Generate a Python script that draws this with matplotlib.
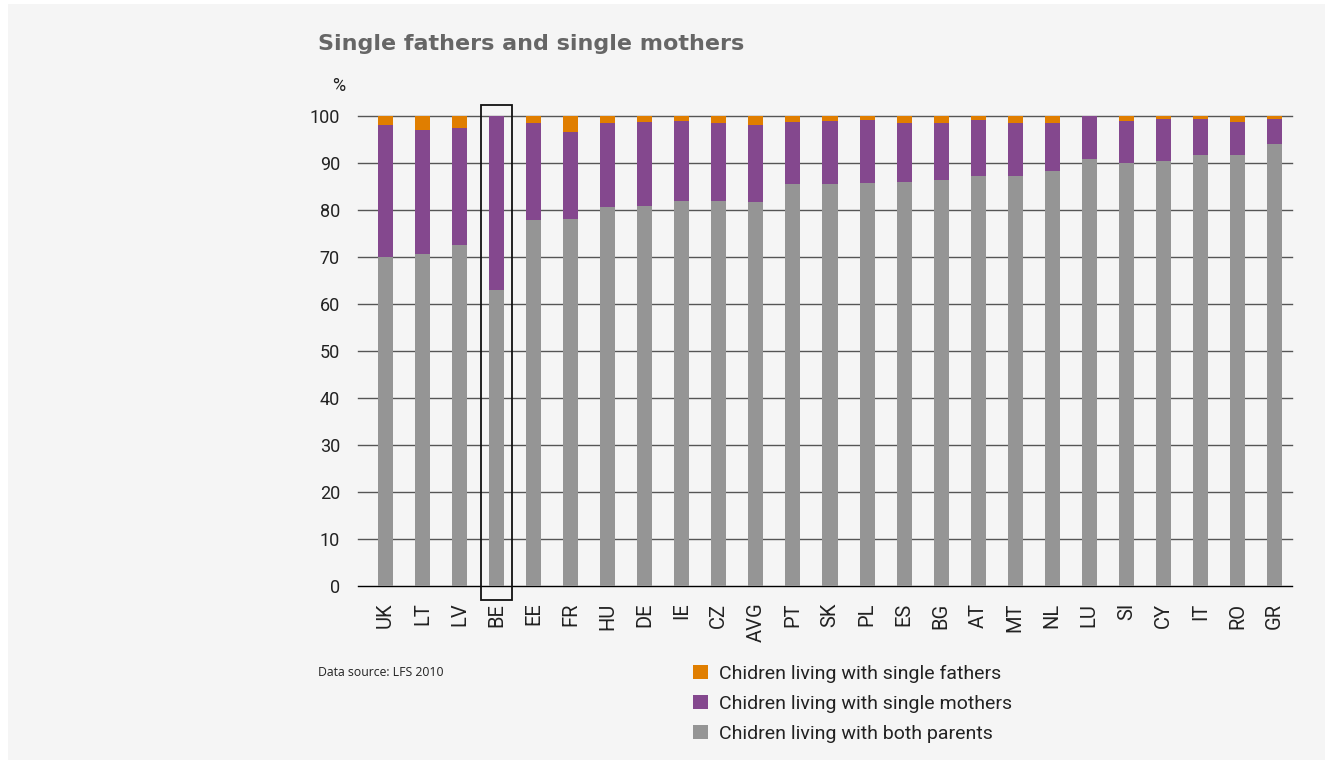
import matplotlib
matplotlib.use("Agg")
import matplotlib.pyplot as plt
from matplotlib.patches import Rectangle, Patch

countries = ["UK", "LT", "LV", "BE", "EE", "FR", "HU", "DE", "IE", "CZ", "AVG", "PT", "SK",
             "PL", "ES", "BG", "AT", "MT", "NL", "LU", "SI", "CY", "IT", "RO", "GR"]
both_parents = [70.0, 70.6, 72.6, 63.0, 77.9, 78.1, 80.6, 80.9, 82.0, 82.0, 81.8, 85.6, 85.6,
                85.8, 86.0, 86.4, 87.2, 87.2, 88.3, 90.9, 90.0, 90.4, 91.7, 91.7, 94.0]
single_mothers = [28.1, 26.4, 24.8, 37.0, 20.6, 18.5, 17.9, 17.8, 16.9, 16.5, 16.3, 13.1, 13.3,
                  13.3, 12.5, 12.1, 11.9, 11.3, 10.2, 9.1, 8.9, 9.0, 7.7, 7.0, 5.4]
single_fathers = [1.9, 3.0, 2.6, 0.0, 1.5, 3.4, 1.5, 1.3, 1.1, 1.5, 1.9, 1.3, 1.1,
                  0.9, 1.5, 1.5, 0.9, 1.5, 1.5, 0.0, 1.1, 0.6, 0.6, 1.3, 0.6]
highlight = "BE"
yticks = list(range(0, 101, 10))

C_FATHERS = "#E07E00"
C_MOTHERS = "#84488E"
C_BOTH = "#959595"
BG = "#F5F5F5"

W, H = 1333, 764
fig = plt.figure(figsize=(W / 100, H / 100), dpi=100, facecolor="white")
fig.patches.append(Rectangle((8 / W, 4 / H), (W - 16) / W, (H - 8) / H,
                             transform=fig.transFigure, facecolor=BG, edgecolor="none", zorder=-10))

ax = fig.add_axes([358 / W, (H - 586) / H, (1292 - 358) / W, 470 / H])
ax.patch.set_alpha(0)

x = list(range(len(countries)))
bw = 0.405
ax.bar(x, both_parents, width=bw, color=C_BOTH, zorder=3)
ax.bar(x, single_mothers, width=bw, bottom=both_parents, color=C_MOTHERS, zorder=3)
tops = [a + b for a, b in zip(both_parents, single_mothers)]
ax.bar(x, single_fathers, width=bw, bottom=tops, color=C_FATHERS, zorder=3)

ax.set_xlim(-0.74, 24.47)
ax.set_ylim(0, 100)
ax.set_yticks(yticks)
ax.set_yticklabels([str(t) for t in yticks], fontsize=13, color="#222222", family="Roboto")
for t in yticks:
    ax.axhline(t, color="#000000" if t == 0 else "#555555", lw=1.0, zorder=2, clip_on=False)
ax.set_xticks(x)
ax.set_xticklabels(countries, rotation=90, fontsize=14.5, color="#222222", family="Roboto")
ax.tick_params(axis="both", length=0)
ax.tick_params(axis="y", pad=13)
ax.tick_params(axis="x", pad=12)
for s in ax.spines.values():
    s.set_visible(False)

bi = countries.index(highlight)
ax.add_patch(Rectangle((bi - 0.42, -3.0), 0.84, 105.3, fill=False, edgecolor="#111111",
                       lw=1.3, clip_on=False, zorder=5))

fig.text(318 / W, 1 - 44 / H, "Single fathers and single mothers", fontsize=16, fontweight="bold",
         color="#666666", va="center", ha="left", family="DejaVu Sans")
fig.text(345 / W, 1 - 86 / H, "%", fontsize=13, color="#222222", va="center", ha="right", family="Roboto")
fig.text(318 / W, 1 - 673 / H, "Data source: LFS 2010", fontsize=8.8, color="#222222",
         va="center", ha="left", family="Open Sans")

handles = [Patch(facecolor=C_FATHERS, edgecolor="none"),
           Patch(facecolor=C_MOTHERS, edgecolor="none"),
           Patch(facecolor=C_BOTH, edgecolor="none")]
labels = ["Chidren living with single fathers", "Chidren living with single mothers",
          "Chidren living with both parents"]
fig.legend(handles, labels, loc="upper left", bbox_to_anchor=(676 / W, 1 - 647 / H),
           frameon=False, handlelength=0.77, handleheight=0.77, handletextpad=0.52,
           labelspacing=0.62, prop={"family": "Roboto", "size": 14}, labelcolor="#222222")

fig.savefig("out.png", dpi=100, facecolor=fig.get_facecolor())
